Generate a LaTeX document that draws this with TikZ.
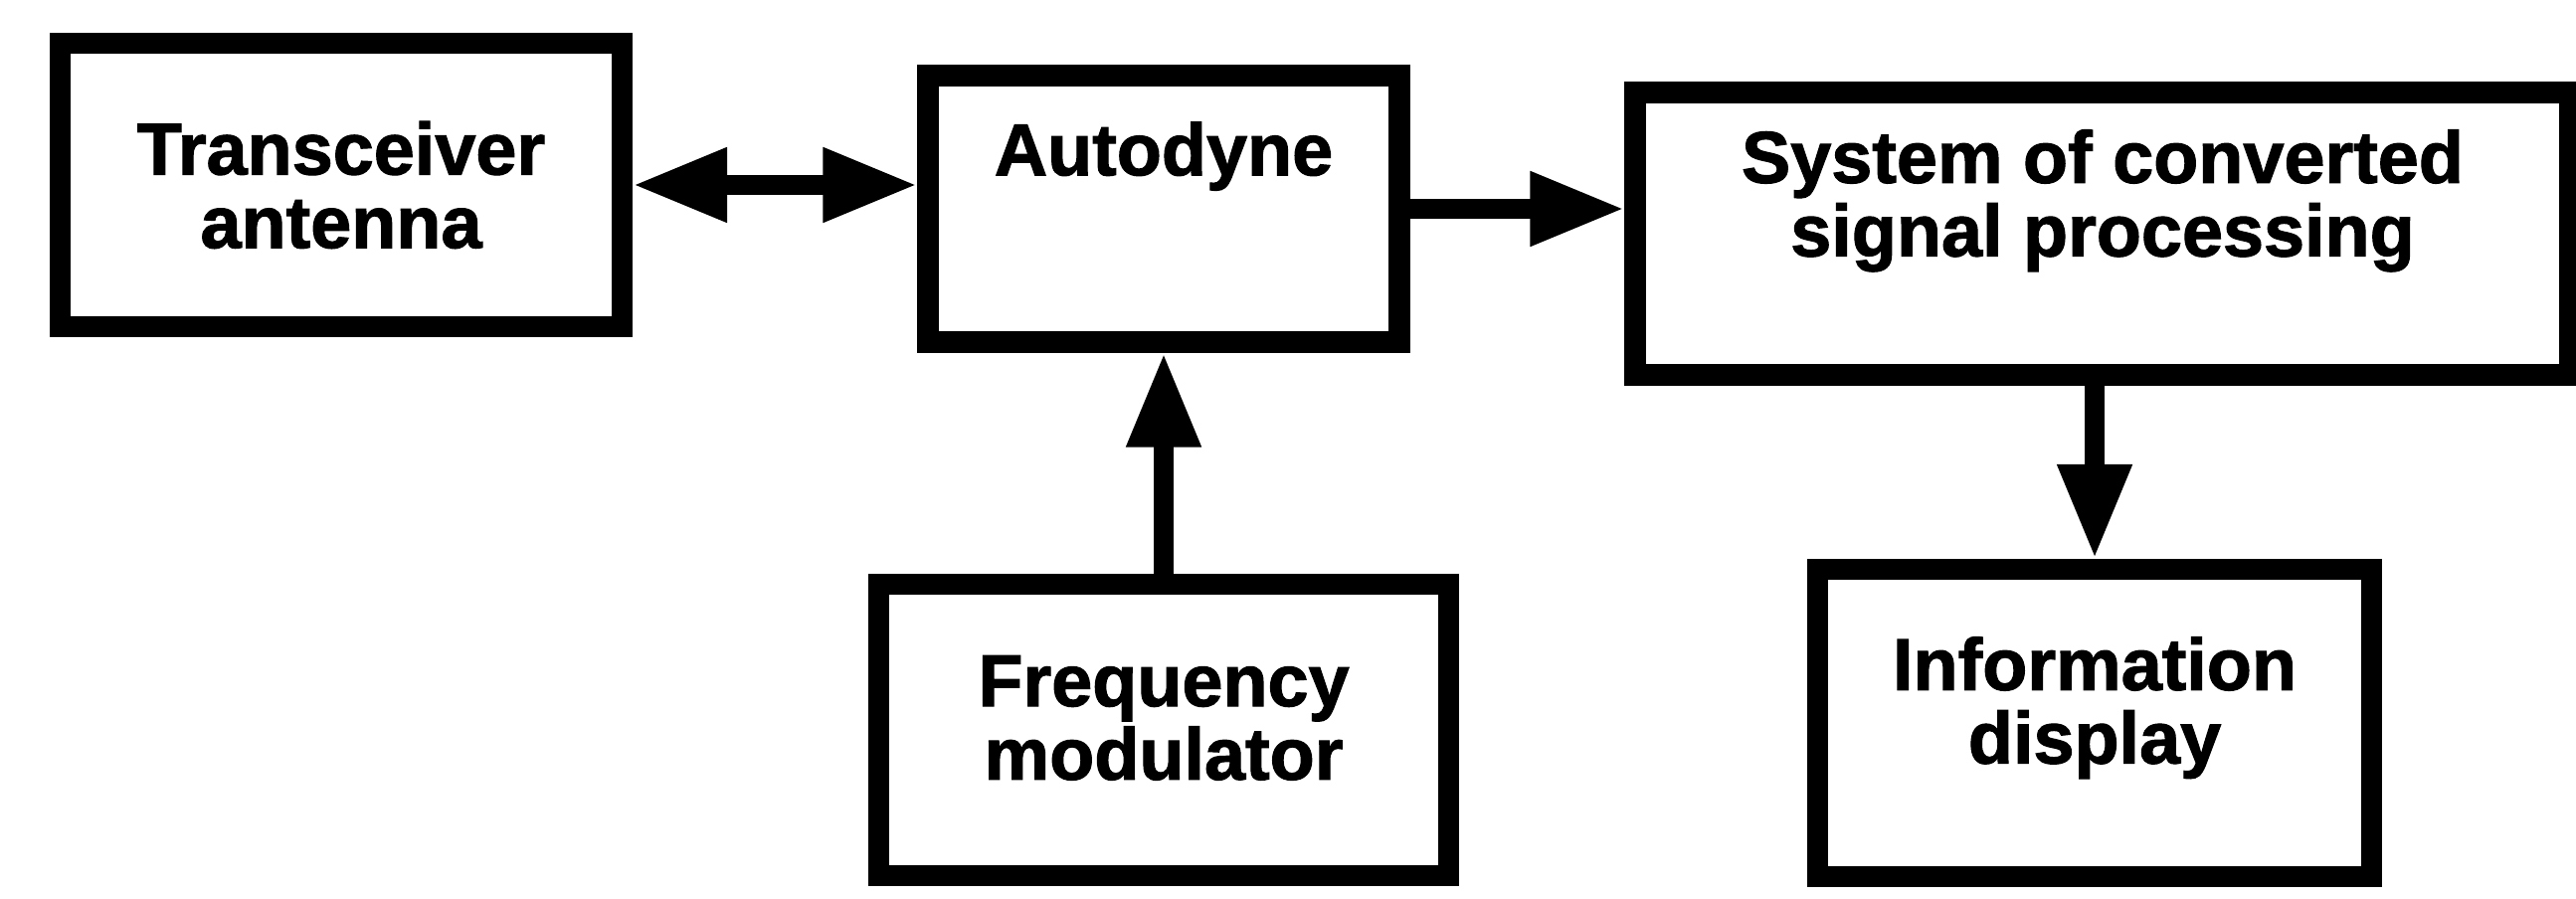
\documentclass[tikz,border=0pt]{standalone}
\usepackage{fontspec}
\setmainfont{Liberation Sans}[BoldFeatures={FakeBold=1.5}]
\usepackage{tikz}
\usetikzlibrary{arrows.meta,calc,positioning}
\definecolor{ink}{HTML}{000000}

\begin{document}
\begin{tikzpicture}[
  block/.style={draw=ink,line width=6pt,fill=white,align=center,inner sep=4pt,
    font=\fontsize{21}{21}\selectfont\bfseries},
  flow/.style={-{Triangle[length=9.5mm,width=7mm]},line width=5.7pt,draw=ink},
  duplex/.style={{Triangle[length=9.5mm,width=7mm]}-{Triangle[length=9.5mm,width=7mm]},line width=5.7pt,draw=ink}
]
\useasboundingbox (0,0) rectangle (25.9,9.04);
\node[block,minimum width=5.65cm,minimum height=2.85cm] (ant) at (3.43,7.18) {Transceiver\\antenna};
\node[block,minimum width=4.74cm,minimum height=2.68cm,text depth=1.21cm] (auto) at (11.70,6.94) {Autodyne};
\node[block,minimum width=9.40cm,minimum height=2.84cm,text depth=0.82cm] (sys) at (21.14,6.69) {System of converted\\signal processing};
\node[block,minimum width=5.73cm,minimum height=2.93cm,text depth=0.24cm,below=2.22cm of auto] (freq) {Frequency\\modulator};
\node[block,minimum width=5.57cm,minimum height=3.09cm,text depth=0.46cm] (info) at (21.06,1.77) {Information\\display};
% connections
\draw[duplex] (ant.east) -- (ant.east -| auto.west);
\draw[flow] (auto.east) -- (auto.east -| sys.west);
\draw[flow] (freq.north) -- (freq.north |- auto.south);
\draw[flow] (sys.south -| info.north) -- (info.north);
\end{tikzpicture}
\end{document}
